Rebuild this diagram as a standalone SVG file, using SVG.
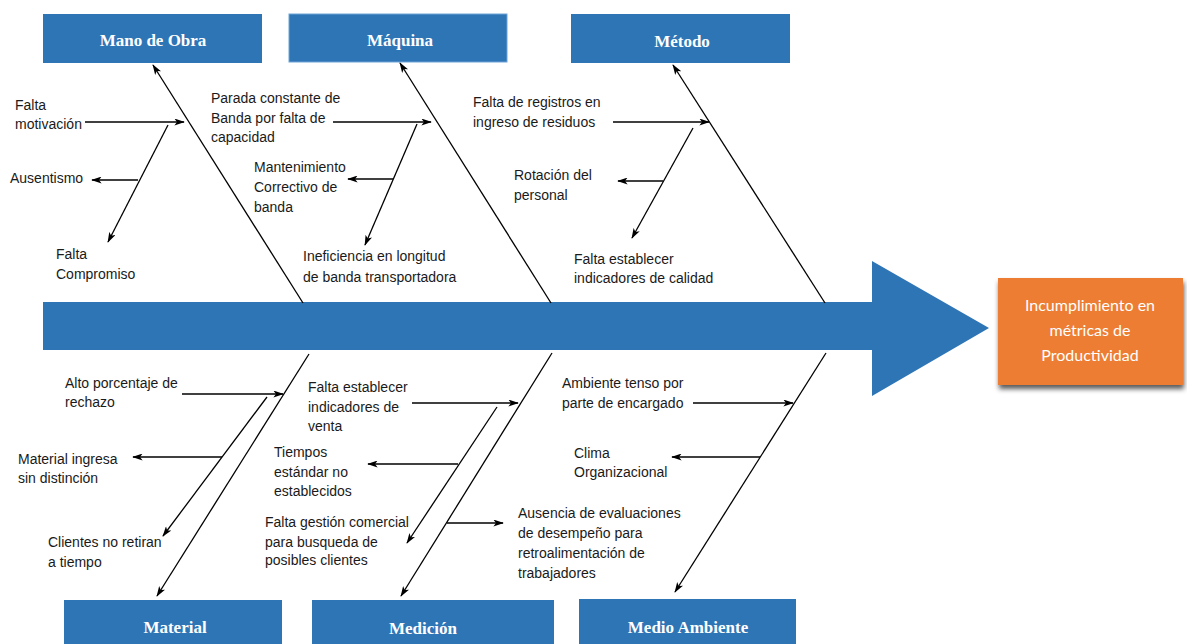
<svg xmlns="http://www.w3.org/2000/svg" width="1187" height="644" viewBox="0 0 1187 644">
  <style>
    .cat { fill: #2E75B6; }
    .cat-label { font-family: "Liberation Serif", "Times New Roman", serif; font-weight: bold; font-size: 17px; fill: #FFFFFF; text-anchor: middle; }
    .cause { font-family: "Liberation Sans", Arial, sans-serif; font-size: 14px; fill: #1A1A1A; }
    .bone { stroke: #000; stroke-width: 1.3; fill: none; marker-end: url(#tip); }
    .effect-label { font-family: Lato, "Open Sans", sans-serif; font-size: 16px; fill: #FFFFFF; text-anchor: middle; }
  </style>
  <defs>
    <marker id="tip" viewBox="0 0 12 8" refX="11" refY="4" markerWidth="11" markerHeight="7" markerUnits="userSpaceOnUse" orient="auto">
      <path d="M0,0 L12,4 L0,8 L3,4 Z" fill="#000"/>
    </marker>
    <filter id="shadow" x="-10%" y="-10%" width="125%" height="135%">
      <feDropShadow dx="1" dy="4" stdDeviation="2.5" flood-color="#000" flood-opacity="0.65"/>
    </filter>
  </defs>

  <rect width="1187" height="644" fill="#FFFFFF"/>

  <!-- spine arrow -->
  <g id="spine">
    <path d="M43,302 L872,302 L872,261 L989,328 L872,396 L872,350 L43,350 Z" fill="#2E75B6"/>
  </g>

  <!-- effect -->
  <g id="effect">
    <rect x="998" y="278" width="185" height="107" fill="#ED7D31" filter="url(#shadow)"/>
    <text class="effect-label" x="1090" y="311">Incumplimiento en</text>
    <text class="effect-label" x="1090" y="336">métricas de</text>
    <text class="effect-label" x="1090" y="361">Productividad</text>
  </g>

  <!-- category boxes -->
  <g id="mano-de-obra">
    <rect class="cat" x="43" y="14" width="219" height="49"/>
    <text class="cat-label" x="153" y="46">Mano de Obra</text>
  </g>
  <g id="maquina">
    <rect class="cat" x="289" y="14" width="218" height="48" stroke="#6FA3D6" stroke-width="1"/>
    <text class="cat-label" x="400" y="46">Máquina</text>
  </g>
  <g id="metodo">
    <rect class="cat" x="571" y="14" width="219" height="49"/>
    <text class="cat-label" x="682" y="47">Método</text>
  </g>
  <g id="material">
    <rect class="cat" x="64" y="600" width="218" height="50"/>
    <text class="cat-label" x="175" y="633">Material</text>
  </g>
  <g id="medicion">
    <rect class="cat" x="312" y="600" width="242" height="50"/>
    <text class="cat-label" x="423" y="634">Medición</text>
  </g>
  <g id="medio-ambiente">
    <rect class="cat" x="579" y="599" width="217" height="50"/>
    <text class="cat-label" x="688" y="633">Medio Ambiente</text>
  </g>

  <!-- cause texts -->
  <g id="causes-mano-de-obra">
    <text class="cause" x="15" y="110">Falta</text>
    <text class="cause" x="15" y="129">motivación</text>
    <text class="cause" x="10" y="183">Ausentismo</text>
    <text class="cause" x="56" y="259">Falta</text>
    <text class="cause" x="56" y="279">Compromiso</text>
  </g>
  <g id="causes-maquina">
    <text class="cause" x="211" y="103">Parada constante de</text>
    <text class="cause" x="211" y="123">Banda por falta de</text>
    <text class="cause" x="211" y="142">capacidad</text>
    <text class="cause" x="254" y="172">Mantenimiento</text>
    <text class="cause" x="254" y="192">Correctivo de</text>
    <text class="cause" x="254" y="212">banda</text>
    <text class="cause" x="303" y="261">Ineficiencia en longitud</text>
    <text class="cause" x="303" y="282">de banda transportadora</text>
  </g>
  <g id="causes-metodo">
    <text class="cause" x="473" y="107">Falta de registros en</text>
    <text class="cause" x="473" y="127">ingreso de residuos</text>
    <text class="cause" x="514" y="180">Rotación del</text>
    <text class="cause" x="514" y="200">personal</text>
    <text class="cause" x="574" y="264">Falta establecer</text>
    <text class="cause" x="574" y="283">indicadores de calidad</text>
  </g>
  <g id="causes-material">
    <text class="cause" x="65" y="388">Alto porcentaje de</text>
    <text class="cause" x="65" y="407">rechazo</text>
    <text class="cause" x="18" y="464">Material ingresa</text>
    <text class="cause" x="18" y="483">sin distinción</text>
    <text class="cause" x="48" y="547">Clientes no retiran</text>
    <text class="cause" x="48" y="567">a tiempo</text>
  </g>
  <g id="causes-medicion">
    <text class="cause" x="308" y="392">Falta establecer</text>
    <text class="cause" x="308" y="412">indicadores de</text>
    <text class="cause" x="308" y="431">venta</text>
    <text class="cause" x="274" y="457">Tiempos</text>
    <text class="cause" x="274" y="477">estándar no</text>
    <text class="cause" x="274" y="496">establecidos</text>
    <text class="cause" x="265" y="527">Falta gestión comercial</text>
    <text class="cause" x="265" y="547">para busqueda de</text>
    <text class="cause" x="265" y="565">posibles clientes</text>
  </g>
  <g id="causes-medio-ambiente">
    <text class="cause" x="562" y="388">Ambiente tenso por</text>
    <text class="cause" x="562" y="408">parte de encargado</text>
    <text class="cause" x="574" y="458">Clima</text>
    <text class="cause" x="574" y="477">Organizacional</text>
    <text class="cause" x="518" y="518">Ausencia de evaluaciones</text>
    <text class="cause" x="518" y="538">de desempeño para</text>
    <text class="cause" x="518" y="558">retroalimentación de</text>
    <text class="cause" x="518" y="578">trabajadores</text>
  </g>

  <!-- connectors -->
  <g id="connectors">
    <!-- Mano de Obra -->
    <line class="bone" x1="303" y1="303" x2="153" y2="65"/>
    <line class="bone" x1="85" y1="122" x2="184" y2="122"/>
    <line class="bone" x1="168" y1="125" x2="108" y2="242"/>
    <line class="bone" x1="138" y1="180" x2="92" y2="180"/>
    <!-- Máquina -->
    <line class="bone" x1="551" y1="303" x2="400" y2="63"/>
    <line class="bone" x1="333" y1="122" x2="431" y2="122"/>
    <line class="bone" x1="417" y1="124" x2="365" y2="245"/>
    <line class="bone" x1="393" y1="179" x2="348" y2="179"/>
    <!-- Método -->
    <line class="bone" x1="825" y1="303" x2="673" y2="65"/>
    <line class="bone" x1="613" y1="122" x2="709" y2="122"/>
    <line class="bone" x1="693" y1="128" x2="632" y2="238"/>
    <line class="bone" x1="663" y1="181" x2="618" y2="181"/>
    <!-- Material -->
    <line class="bone" x1="309" y1="354" x2="157" y2="596"/>
    <line class="bone" x1="182" y1="394" x2="283" y2="394"/>
    <line class="bone" x1="267" y1="397" x2="163" y2="536"/>
    <line class="bone" x1="222" y1="457" x2="133" y2="457"/>
    <!-- Medición -->
    <line class="bone" x1="552" y1="353" x2="401" y2="596"/>
    <line class="bone" x1="412" y1="403" x2="518" y2="403"/>
    <line class="bone" x1="497" y1="407" x2="407" y2="543"/>
    <line class="bone" x1="458" y1="464" x2="368" y2="464"/>
    <line class="bone" x1="447" y1="523" x2="503" y2="523"/>
    <!-- Medio Ambiente -->
    <line class="bone" x1="826" y1="353" x2="675" y2="592"/>
    <line class="bone" x1="693" y1="403" x2="793" y2="403"/>
    <line class="bone" x1="760" y1="457" x2="672" y2="457"/>
  </g>
</svg>
